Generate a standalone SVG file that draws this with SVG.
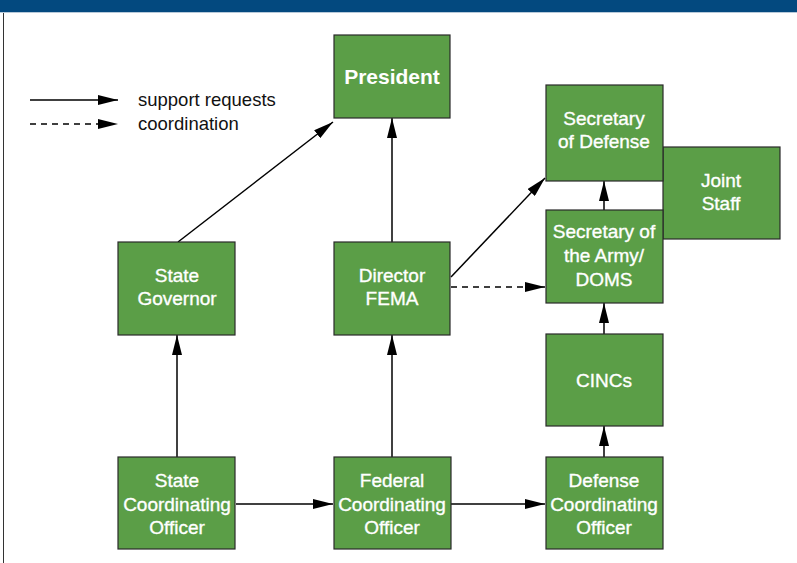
<svg xmlns="http://www.w3.org/2000/svg" width="797" height="563" viewBox="0 0 797 563">
<style>
.box{fill:#5b9e47;stroke:#2a2a2a;stroke-width:1.2}
.t{font-family:"Liberation Sans",Arial,sans-serif;font-size:19px;fill:#ffffff;stroke:#ffffff;stroke-width:0.35;text-anchor:middle}
.lg{font-family:"Liberation Sans",Arial,sans-serif;font-size:18.5px;fill:#111}
.c{stroke:#000;stroke-width:1.5;fill:none}
.d{stroke-dasharray:6,5}
</style>
<defs>
<marker id="ah" viewBox="0 0 20 10" refX="20" refY="5" markerWidth="20" markerHeight="10" markerUnits="userSpaceOnUse" orient="auto">
<path d="M0,0 L20,5 L0,10 Z" fill="#000"/>
</marker>
</defs>
<rect x="0" y="0" width="797" height="12" fill="#03497f"/>
<line x1="0" y1="12.5" x2="797" y2="12.5" stroke="#b7c9d9" stroke-width="1"/>
<line x1="3.5" y1="13" x2="3.5" y2="563" stroke="#333" stroke-width="1"/>

<g id="legend">
<line class="c" x1="30" y1="100" x2="118" y2="100" marker-end="url(#ah)"/>
<line class="c d" x1="30" y1="124" x2="118" y2="124" marker-end="url(#ah)"/>
<text class="lg" x="138" y="106">support requests</text>
<text class="lg" x="138" y="130">coordination</text>
</g>

<g id="connectors">
<line class="c" x1="177" y1="457" x2="177" y2="335" marker-end="url(#ah)"/>
<line class="c" x1="392" y1="457" x2="392" y2="335" marker-end="url(#ah)"/>
<line class="c" x1="604" y1="457" x2="604" y2="426" marker-end="url(#ah)"/>
<line class="c" x1="604" y1="334" x2="604" y2="303" marker-end="url(#ah)"/>
<line class="c" x1="604" y1="210" x2="604" y2="181" marker-end="url(#ah)"/>
<line class="c" x1="392" y1="242" x2="392" y2="118" marker-end="url(#ah)"/>
<line class="c" x1="178" y1="242" x2="333" y2="122" marker-end="url(#ah)"/>
<line class="c" x1="451" y1="277" x2="545" y2="178" marker-end="url(#ah)"/>
<line class="c d" x1="451" y1="287" x2="545" y2="287" marker-end="url(#ah)"/>
<line class="c" x1="236" y1="504" x2="333" y2="504" marker-end="url(#ah)"/>
<line class="c" x1="451" y1="504" x2="545" y2="504" marker-end="url(#ah)"/>
</g>

<g id="president">
<rect class="box" x="334" y="35" width="116" height="83"/>
<text class="t" x="392" y="84" style="font-size:21px;font-weight:bold;stroke-width:0">President</text>
</g>
<g id="joint-staff">
<rect class="box" x="663" y="147" width="117" height="92"/>
<text class="t" x="721" y="187">Joint</text>
<text class="t" x="721" y="210">Staff</text>
</g>
<g id="secdef">
<rect class="box" x="546" y="85" width="117" height="96"/>
<text class="t" x="604" y="125">Secretary</text>
<text class="t" x="604" y="148">of Defense</text>
</g>
<g id="secarmy">
<rect class="box" x="546" y="210" width="117" height="93"/>
<text class="t" x="604" y="238">Secretary of</text>
<text class="t" x="604" y="262">the Army/</text>
<text class="t" x="604" y="286">DOMS</text>
</g>
<g id="cincs">
<rect class="box" x="546" y="334" width="117" height="92"/>
<text class="t" x="604" y="387">CINCs</text>
</g>
<g id="state-governor">
<rect class="box" x="118" y="242" width="117" height="93"/>
<text class="t" x="177" y="282">State</text>
<text class="t" x="177" y="305">Governor</text>
</g>
<g id="director-fema">
<rect class="box" x="334" y="242" width="116" height="93"/>
<text class="t" x="392" y="282">Director</text>
<text class="t" x="392" y="305">FEMA</text>
</g>
<g id="state-coord">
<rect class="box" x="118" y="457" width="117" height="92"/>
<text class="t" x="177" y="487">State</text>
<text class="t" x="177" y="511">Coordinating</text>
<text class="t" x="177" y="534">Officer</text>
</g>
<g id="federal-coord">
<rect class="box" x="334" y="457" width="117" height="92"/>
<text class="t" x="392" y="487">Federal</text>
<text class="t" x="392" y="511">Coordinating</text>
<text class="t" x="392" y="534">Officer</text>
</g>
<g id="defense-coord">
<rect class="box" x="546" y="457" width="117" height="92"/>
<text class="t" x="604" y="487">Defense</text>
<text class="t" x="604" y="511">Coordinating</text>
<text class="t" x="604" y="534">Officer</text>
</g>
</svg>
